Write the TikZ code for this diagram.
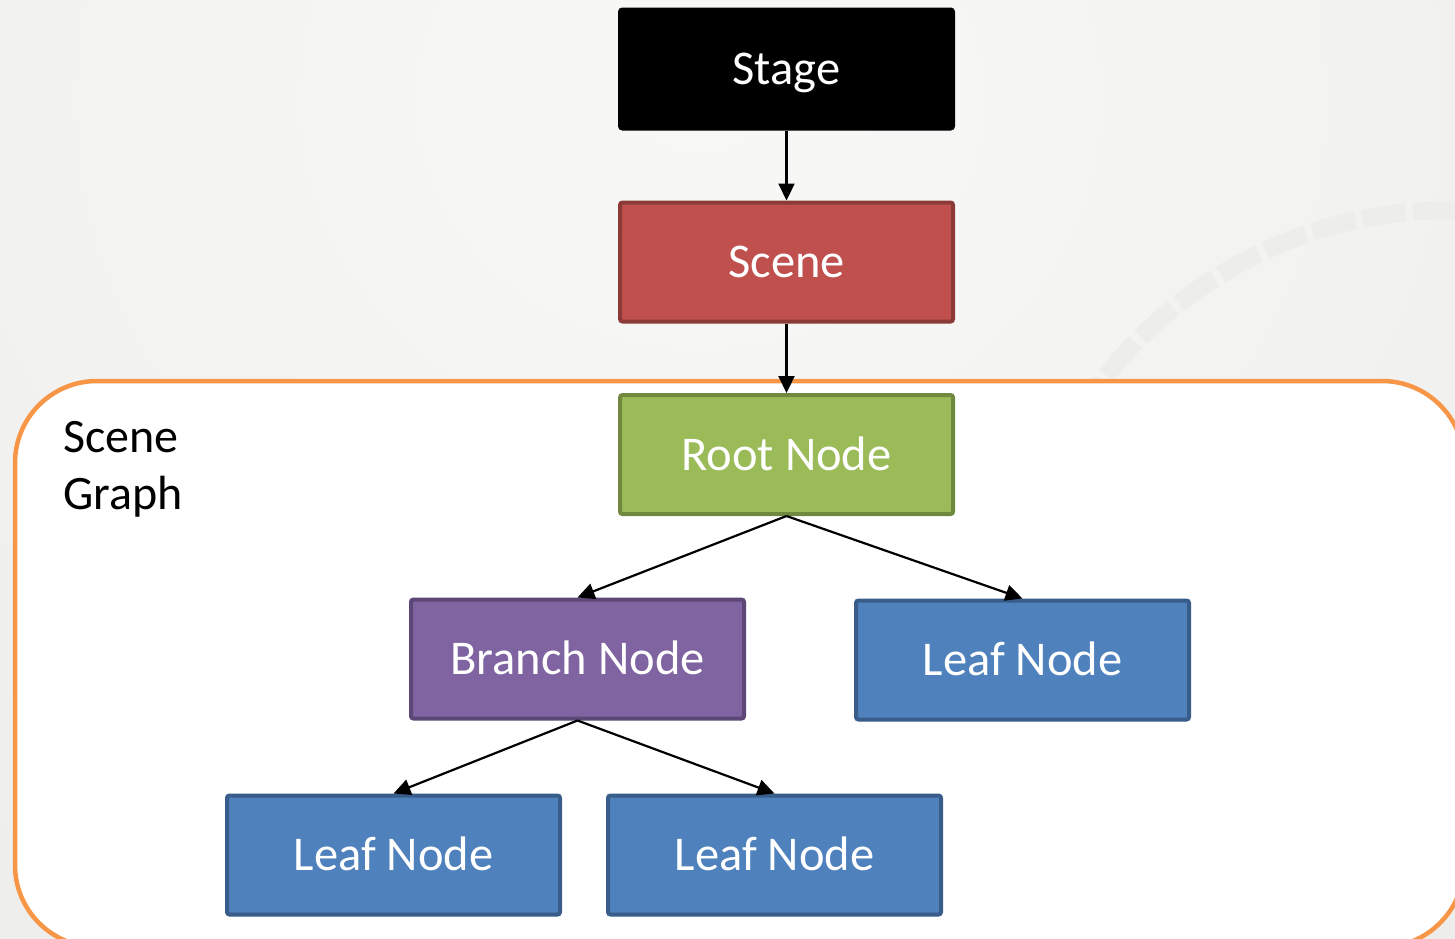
\documentclass[tikz,border=0pt]{standalone}
\usepackage{fontspec}
\setmainfont{Carlito}
\usetikzlibrary{arrows.meta}
\definecolor{bgc}{HTML}{F8F8F6}
\definecolor{bgdark}{HTML}{EAEAE8}
\definecolor{sealc}{HTML}{EDEDEB}
\definecolor{frameor}{HTML}{F79646}
\definecolor{redf}{HTML}{C0504D}\definecolor{redd}{HTML}{8C3A38}
\definecolor{grnf}{HTML}{9BBB59}\definecolor{grnd}{HTML}{71893F}
\definecolor{purf}{HTML}{8064A2}\definecolor{purd}{HTML}{5C4776}
\definecolor{bluf}{HTML}{4F81BD}\definecolor{blud}{HTML}{385D8A}
\tikzset{
  box/.style={rectangle, rounded corners=2.5pt, line width=4pt,
    minimum width=333pt, minimum height=119pt, inner sep=0pt,
    text=white, font=\fontsize{48.5}{57}\selectfont,
    text height=31pt, text depth=0pt},
  stagebox/.style={box, fill=black, draw=black},
  scenebox/.style={box, fill=redf, draw=redd},
  rootbox/.style={box, fill=grnf, draw=grnd},
  branchbox/.style={box, fill=purf, draw=purd},
  leafbox/.style={box, fill=bluf, draw=blud},
  link/.style={line width=2.2pt, -{Triangle[length=17pt,width=16pt]}},
  framebox/.style={draw=frameor, line width=4.5pt, fill=white, rounded corners=82pt},
}
\begin{document}
\begin{tikzpicture}[x=1pt,y=-1pt]
\useasboundingbox (0,0) rectangle (1455,938);
% background
\fill[bgc] (0,0) rectangle (1455,938);
\begin{scope}
\clip (0,0) rectangle (1455,938);
\shade[inner color=bgc, outer color=bgdark] (-900,-1300) rectangle (2300,1500);
\draw[sealc, line width=18pt, dash pattern=on 44pt off 7pt] (1450,650) ++(-148:440) arc[start angle=-148, end angle=-82, radius=440];
\end{scope}
% frame
\draw[framebox] (15,381) rectangle (1464,947);
\node[anchor=north west, inner sep=0pt, align=left, font=\fontsize{48}{57.5}\selectfont] (label) at (63,421) {Scene\\Graph};
% nodes
\node[stagebox]  (stage)  at (786.5,69)  {Stage};
\node[scenebox]  (scene)  at (786.5,262) {Scene};
\node[rootbox]   (root)   at (786.5,454.5) {Root Node};
\node[branchbox] (branch) at (577.5,659) {Branch Node};
\node[leafbox]   (leafr)  at (1022.5,660) {Leaf Node};
\node[leafbox]   (leafl)  at (393.5,855) {Leaf Node};
\node[leafbox]   (leafm)  at (774.5,855) {Leaf Node};
% connectors
\draw[link] (stage.south) -- (scene.north);
\draw[link] (scene.south) -- (root.north);
\draw[link] (root.south) -- (branch.north);
\draw[link] (root.south) -- (leafr.north);
\draw[link] (branch.south) -- (leafl.north);
\draw[link] (branch.south) -- (leafm.north);
\end{tikzpicture}
\end{document}
